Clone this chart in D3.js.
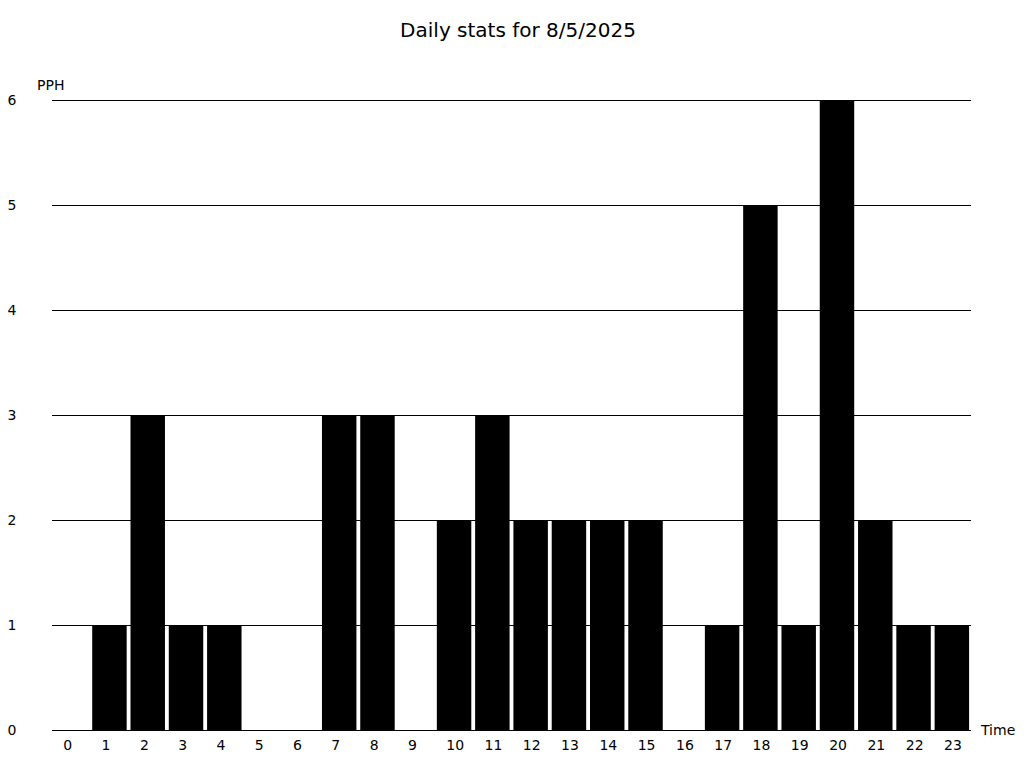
<!DOCTYPE html>
<html>
<head>
<meta charset="utf-8">
<script src="https://cdn.jsdelivr.net/npm/d3@7"></script>
<style>
  html, body { margin: 0; padding: 0; background: #fff; }
  svg { display: block; font-family: "DejaVu Sans", sans-serif; }
</style>
</head>
<body>
<script>
const title = "Daily stats for 8/5/2025";
const hours = ["0","1","2","3","4","5","6","7","8","9","10","11","12","13","14","15","16","17","18","19","20","21","22","23"];
const pph = [0,1,3,1,1,0,0,3,3,0,2,3,2,2,2,2,0,1,5,1,6,2,1,1];
const yTicks = [0,1,2,3,4,5,6];
const yLabel = "PPH";
const xLabel = "Time";

(function () {
const W = 1024, H = 768;
const mLeft = 52, mRight = 971, mTop = 100, mBottom = 730;

const svg = d3.select("body").append("svg").attr("width", W).attr("height", H);

const x = d3.scaleBand().domain(hours).range([mLeft, mRight]).paddingInner(0.1).paddingOuter(0.05);
const y = d3.scaleLinear().domain([0, 6]).range([mBottom, mTop]);

// title
svg.append("text").attr("x", 518).attr("y", 37).attr("text-anchor", "middle")
  .attr("font-size", 20).attr("fill", "#000").text(title);

// gridlines
svg.append("g").selectAll("line").data(yTicks).join("line")
  .attr("x1", mLeft).attr("x2", mRight)
  .attr("y1", d => Math.round(y(d)) + 0.5).attr("y2", d => Math.round(y(d)) + 0.5)
  .attr("stroke", "#000").attr("stroke-width", 1);

// y labels
svg.append("g").selectAll("text").data(yTicks).join("text")
  .attr("x", 12).attr("y", d => y(d) + 5).attr("text-anchor", "middle")
  .attr("font-size", 14).attr("fill", "#000").text(d => d);

// bars
svg.append("g").selectAll("rect").data(pph).join("rect")
  .attr("x", (d, i) => x(hours[i]))
  .attr("width", x.bandwidth())
  .attr("y", d => y(d))
  .attr("height", d => y(0) - y(d))
  .attr("fill", "#000");

// x labels
svg.append("g").selectAll("text").data(hours).join("text")
  .attr("x", d => x(d) + 9.4).attr("y", 750).attr("text-anchor", "start")
  .attr("font-size", 14).attr("fill", "#000").text(d => d);

// axis titles
svg.append("text").attr("x", 37).attr("y", 90).attr("font-size", 14).attr("fill", "#000").text(yLabel);
svg.append("text").attr("x", 981).attr("y", 735).attr("font-size", 14).attr("fill", "#000").text(xLabel);
})();
</script>
</body>
</html>
